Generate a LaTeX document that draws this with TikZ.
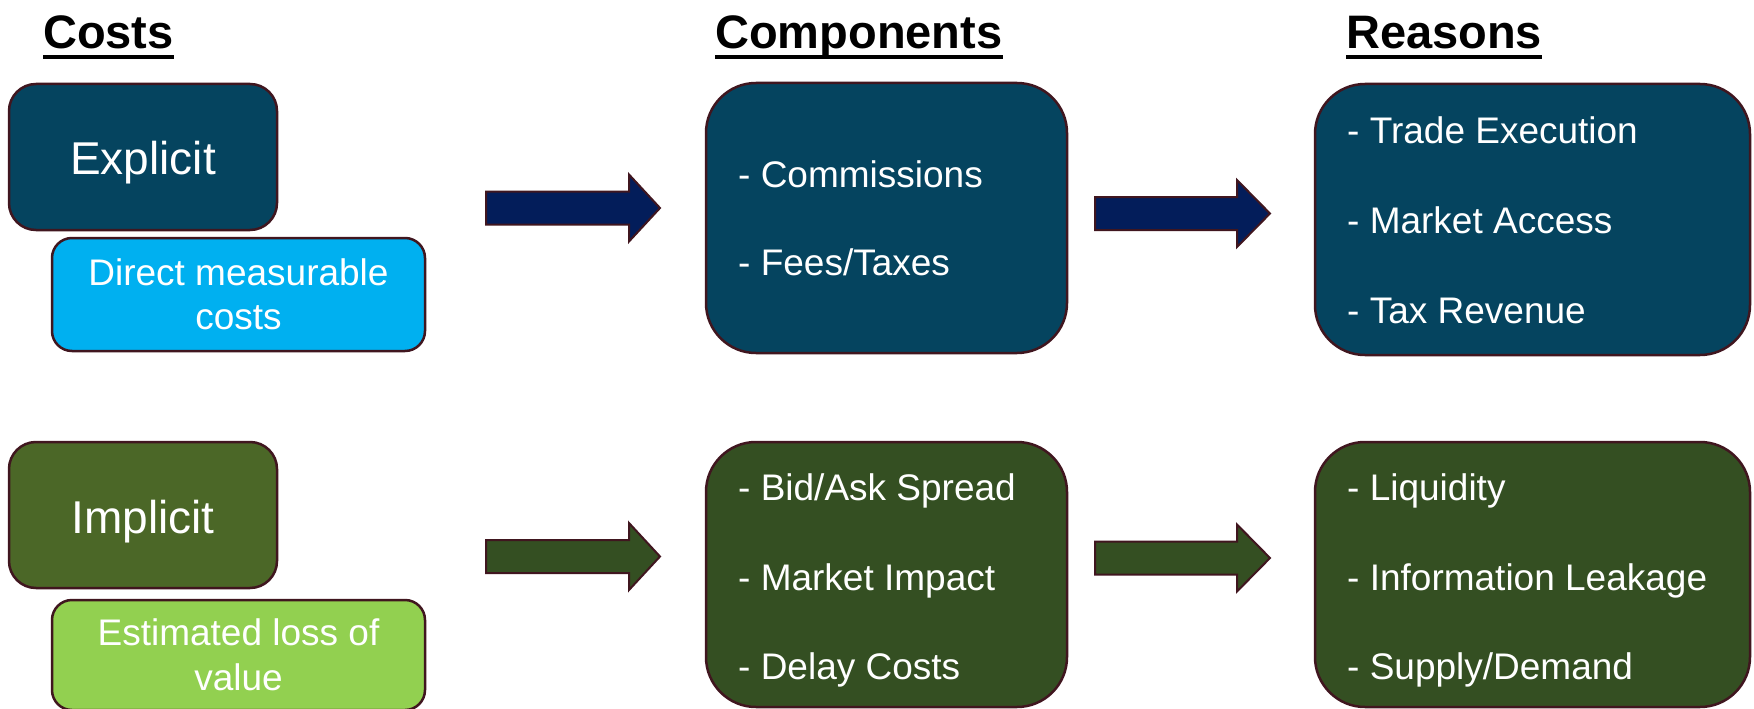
\documentclass[tikz,border=0pt]{standalone}
\usepackage{fontspec}
\setmainfont{Liberation Sans}
\definecolor{boxblue}{HTML}{05445F}
\definecolor{arrownavy}{HTML}{031D5A}
\definecolor{lightblue}{HTML}{00B0F0}
\definecolor{olive}{HTML}{4B6727}
\definecolor{lightgreen}{HTML}{92D050}
\definecolor{darkgreen}{HTML}{344F22}
\definecolor{rim}{HTML}{40161F}
\newcommand\blkarrow[5]{% x0, xbase, xtip, yc, colour
  \filldraw[fill=#5, draw=rim, line width=2pt, line join=miter]
    (#1,#4-16.5) -- (#2,#4-16.5) -- (#2,#4-33.5) -- (#3,#4)
    -- (#2,#4+33.5) -- (#2,#4+16.5) -- (#1,#4+16.5) -- cycle;}
\begin{document}
\begin{tikzpicture}[x=1pt,y=-1pt,
  box/.style={draw=rim, line width=2.5pt, inner sep=0pt},
  header/.style={font=\fontsize{47}{56}\selectfont\bfseries, text=black, inner sep=0pt, anchor=base west},
  bigtext/.style={font=\fontsize{46}{55}\selectfont, text=white, inner sep=0pt, anchor=base},
  subtext/.style={font=\fontsize{37}{44.5}\selectfont, text=white, align=center, inner sep=0pt},
  item/.style={font=\fontsize{37}{44}\selectfont, text=white, inner sep=0pt, anchor=base west}]
\useasboundingbox (0,0) rectangle (1754,709);
\fill[white] (0,0) rectangle (1754,709);

% headers
\node[header] (hcosts) at (43,49) {Costs};
\node[header] (hcomp) at (715,49) {Components};
\node[header] (hreas) at (1346,49) {Reasons};
\foreach \h in {hcosts,hcomp,hreas}
  \draw[line width=4pt] ([yshift=-8pt]\h.base west) -- ([yshift=-8pt]\h.base east);

% left column
\node[box, fill=boxblue, rounded corners=27pt, minimum width=268pt, minimum height=146pt] (explicit) at (143,157) {};
\node[bigtext] (explicitt) at (143,174) {Explicit};
\node[box, fill=lightblue, rounded corners=20pt, minimum width=373pt, minimum height=113pt] (direct) at (238.5,294.5) {};
\node[subtext] (directt) at (direct.center) {Direct measurable\\costs};

\node[box, fill=olive, rounded corners=27pt, minimum width=268pt, minimum height=146pt] (implicit) at (143,515) {};
\node[bigtext] (implicitt) at (143,533) {Implicit};
\node[box, fill=lightgreen, rounded corners=20pt, minimum width=373pt, minimum height=110pt] (estim) at (238.5,655) {};
\node[subtext] (estimt) at (estim.center) {Estimated loss of\\value};

% components
\node[box, fill=boxblue, rounded corners=50pt, minimum width=361pt, minimum height=270pt] (comptop) at (886.5,218) {};
\node[item] (c1) at (738,187) {- Commissions};
\node[item] (c2) at (738,275) {- Fees/Taxes};

\node[box, fill=darkgreen, rounded corners=50pt, minimum width=361pt, minimum height=265pt] (compbot) at (886.5,574.5) {};
\node[item] (c3) at (738,500) {- Bid/Ask Spread};
\node[item] (c4) at (738,590) {- Market Impact};
\node[item] (c5) at (738,679) {- Delay Costs};

% reasons
\node[box, fill=boxblue, rounded corners=50pt, minimum width=435pt, minimum height=271pt] (reastop) at (1532.5,219.5) {};
\node[item] (r1) at (1347,143) {- Trade Execution};
\node[item] (r2) at (1347,233) {- Market Access};
\node[item] (r3) at (1347,323) {- Tax Revenue};

\node[box, fill=darkgreen, rounded corners=50pt, minimum width=435pt, minimum height=265pt] (reasbot) at (1532.5,574.5) {};
\node[item] (r4) at (1347,500) {- Liquidity};
\node[item] (r5) at (1347,590) {- Information Leakage};
\node[item] (r6) at (1347,679) {- Supply/Demand};

% block arrows
\blkarrow{486}{629}{660}{208}{arrownavy}
\blkarrow{1095}{1237}{1270}{213.5}{arrownavy}
\blkarrow{486}{629}{660}{556.5}{darkgreen}
\blkarrow{1095}{1237}{1270}{558}{darkgreen}
\end{tikzpicture}
\end{document}
